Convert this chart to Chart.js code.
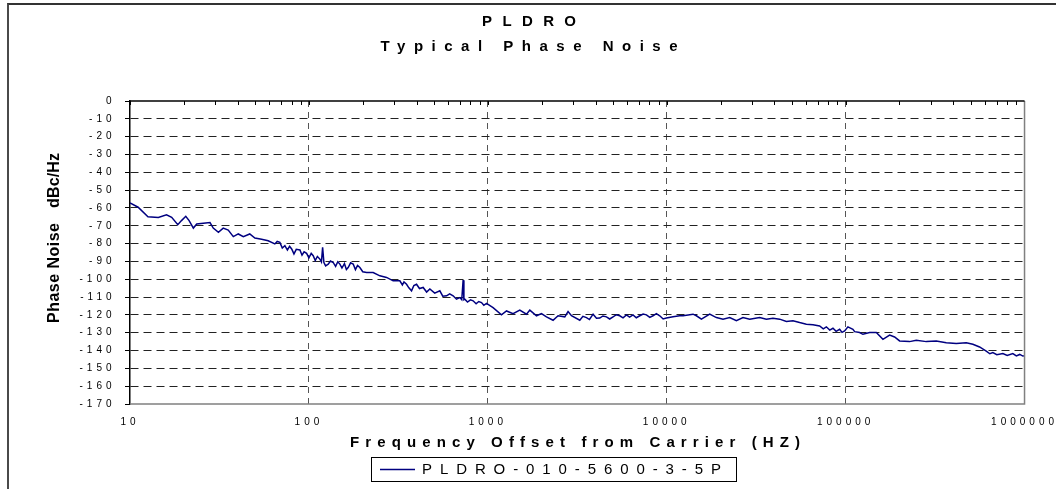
<!DOCTYPE html>
<html>
<head>
<meta charset="utf-8">
<title>PLDRO Typical Phase Noise</title>
<script src="https://cdn.jsdelivr.net/npm/chart.js@4.4.1/dist/chart.umd.min.js"></script>
<style>
  html, body { margin: 0; padding: 0; background: #fff; }
  #marco { position: relative; width: 1056px; height: 489px; overflow: hidden; }
  #marco canvas { position: absolute; left: 0; top: 0; }
  #borde {
    position: absolute; left: 7px; top: 3px; width: 1049px; height: 486px;
    box-sizing: border-box; border-top: 2px solid #333; border-left: 2px solid #4a4a4a;
    pointer-events: none;
  }
</style>
</head>
<body>
<div id="marco">
  <canvas id="grafico" width="1056" height="489"></canvas>
  <div id="borde"></div>
</div>
<script>
// Data
const offsetHz = [
  10, 11.1, 12.6, 14.4, 16.0, 17.1, 18.5, 19.4, 20.5, 21.4, 22.6, 23.6, 25.7, 28.0, 29.2,
  31.2, 33.2, 35.4, 37.8, 40.3, 43.0, 46.7, 49.9, 54.4, 59.2, 64.5, 66.5, 68.8, 71, 73.4,
  75.8, 78, 80.1, 82.5, 85, 89.1, 91.5, 94, 97.1, 100, 103, 105.7, 108.5, 111.5, 115.2,
  117.5, 119.3, 121.3, 124, 128.2, 132, 136.7, 141, 145, 149, 153, 158, 162, 165.8, 171,
  176.8, 182, 187, 192.7, 200, 210.1, 228.7, 249.3, 271.7, 295.7, 322.3, 333, 340, 351.4,
  362, 374.7, 386, 399.6, 415, 435.1, 455, 474.2, 505, 539.2, 560, 588, 612, 640, 668,
  697.6, 715, 727.8, 735, 743.9, 770, 800, 827.8, 860, 890, 922.2, 950, 983.3, 1070,
  1192, 1272, 1384, 1509, 1645, 1717, 1871, 1995, 2128, 2316, 2470, 2693, 2809, 2935,
  3266, 3400, 3560, 3700, 3876, 4050, 4224, 4400, 4604, 4800, 5012, 5230, 5462, 5700,
  5956, 6200, 6482, 6760, 7068, 7380, 7703, 8040, 8385, 8750, 9141, 9550, 9961, 10845,
  11818, 12335, 14028, 14655, 15627, 17391, 18955, 20634, 22491, 24516, 26692, 29087,
  33078, 36058, 39264, 42794, 46648, 50770, 55335, 60312, 65673, 71571, 75000, 78023,
  81500, 84953, 88500, 92582, 95500, 98720, 103000, 109850, 112300, 119740, 124940,
  136180, 148450, 161620, 176160, 187800, 200330, 227800, 248310, 282330, 321150, 365300,
  415300, 472400, 514300, 560500, 610900, 640000, 665200, 700000, 756500, 800000, 860300,
  900000, 940000, 978400, 1000000
];
const phaseNoiseDbc = [
  -57.2, -59.6, -64.9, -65.3, -63.9, -65.3, -69.4, -67.1, -64.7, -67.1, -71.3, -69.0, -68.6, -68.2, -71.3,
  -73.7, -71.3, -72.4, -76.1, -74.6, -76.1, -74.6, -76.9, -77.6, -78.4, -80.2, -78.8, -79.3, -82.5, -81.2,
  -83.6, -81.5, -83, -85.8, -83.2, -83.6, -86.5, -84.6, -85.5, -88, -85.5, -86.8, -89.5, -87.2, -88.7,
  -90.3, -82.1, -90.6, -92.5, -91.5, -89.8, -90.6, -92.8, -90.2, -91.5, -93.7, -91.2, -94.5, -93.4, -90.8,
  -91.5, -94.6, -92.3, -93.4, -95.8, -96.2, -96.2, -98.1, -99, -100.9, -100.9, -103.2, -101.5, -102.8,
  -104.8, -106.5, -103.5, -102.8, -105.2, -104.6, -107.2, -105.5, -107.8, -106.5, -109.5, -109.3, -108.2, -109.3, -111.2,
  -110.3, -111.5, -100.5, -111.5, -111.2, -112.8, -111.6, -112.1, -113.8, -112.5, -113.1, -114.6, -113.6, -115.9,
  -120, -117.8, -119.3, -117.3, -119.6, -117.3, -120.5, -119.3, -121.1, -123, -120.5, -121.1, -118.1, -120.5,
  -123, -120.8, -121.5, -122.6, -119.6, -121.9, -121.8, -120.6, -121.1, -122.3, -121.1, -119.9, -120.5, -121.7,
  -120, -121.3, -120, -121.6, -120.5, -119.5, -120, -121.4, -120.5, -119.3, -120.5, -122.3, -121.8, -121.1,
  -120.5, -120.5, -119.6, -120.5, -122.4, -119.6, -121.5, -122.4, -121.5, -123.3, -121.5, -122.4,
  -121.5, -122.4, -121.9, -122.4, -123.7, -123.3, -124.3, -125.2, -125.6, -126.2, -127.8, -126.7,
  -128.5, -127.5, -129.2, -128.1, -129.8, -129, -126.7, -128.1, -129.4, -129.9, -130.9,
  -129.9, -129.9, -133.7, -131.3, -132.4, -134.6, -135, -134.2, -135, -134.6, -135.6,
  -136.1, -135.6, -136.5, -138, -140.3, -141.8, -141.2, -142.3, -141.7, -142.8, -141.7,
  -143, -142.2, -143.1, -143
];
const decades = [10, 100, 1000, 10000, 100000, 1000000];
const yMin = -170;
const yMax = 0;
const serieNombre = 'PLDRO-010-5600-3-5P';

const fuente = '"Liberation Sans", Arial, sans-serif';
const azul = '#000080';

// Draws text stretched to a given width with letter spacing
function textoEspaciado(ctx, texto, cx, cy, font, ancho) {
  ctx.font = font;
  ctx.letterSpacing = '0px';
  const w = ctx.measureText(texto).width;
  const esp = Math.max(0, (ancho - w) / (texto.length - 1));
  ctx.letterSpacing = esp + 'px';
  ctx.textAlign = 'left';
  ctx.textBaseline = 'middle';
  ctx.fillText(texto, cx - ancho / 2, cy);
}

// --- PLUGIN: frame, minor ticks, titles, legend ---
const adornos = {
  id: 'adornos',
  beforeDraw(chart) {
    chart.ctx.letterSpacing = '4px';
  },
  afterDraw(chart) {
    const { ctx, chartArea: a, scales: { x, y } } = chart;
    ctx.save();
    ctx.letterSpacing = '0px';

    // plot area border (right and bottom)
    ctx.strokeStyle = '#808080';
    ctx.lineWidth = 1.5;
    ctx.beginPath();
    ctx.moveTo(a.left, a.bottom);
    ctx.lineTo(a.right, a.bottom);
    ctx.lineTo(a.right, a.top);
    ctx.stroke();

    // axis line at 0 dB with log ticks (1..9 per decade)
    const y0 = y.getPixelForValue(0);
    ctx.strokeStyle = '#000';
    ctx.lineWidth = 1.5;
    ctx.beginPath();
    ctx.moveTo(a.left, y0);
    ctx.lineTo(a.right, y0);
    ctx.stroke();
    ctx.lineWidth = 1;
    ctx.beginPath();
    decades.slice(0, -1).forEach(d => {
      for (let k = 1; k <= 9; k++) {
        const px = Math.round(x.getPixelForValue(d * k)) + 0.5;
        ctx.moveTo(px, y0);
        ctx.lineTo(px, y0 + 4);
      }
    });
    ctx.stroke();

    ctx.fillStyle = '#000';
    // titles
    textoEspaciado(ctx, 'PLDRO', 529, 22, 'bold 15px ' + fuente, 94);
    textoEspaciado(ctx, 'Typical Phase Noise', 529, 47, 'bold 15px ' + fuente, 297);
    textoEspaciado(ctx, 'Frequency Offset from Carrier (HZ)', 575, 443, 'bold 15px ' + fuente, 450);

    // y axis title
    ctx.save();
    ctx.translate(55, 0);
    ctx.rotate(-Math.PI / 2);
    textoEspaciado(ctx, 'Phase Noise', -273, 0, 'bold 16px ' + fuente, 100);
    textoEspaciado(ctx, 'dBc/Hz', -180.5, 0, 'bold 16px ' + fuente, 55);
    ctx.restore();

    // legend
    ctx.letterSpacing = '0px';
    ctx.strokeStyle = '#000';
    ctx.lineWidth = 1;
    ctx.strokeRect(371.5, 457.5, 365, 24);
    ctx.strokeStyle = azul;
    ctx.lineWidth = 1.5;
    ctx.beginPath();
    ctx.moveTo(380, 469.5);
    ctx.lineTo(415, 469.5);
    ctx.stroke();
    textoEspaciado(ctx, serieNombre, 571.5, 470, '15px ' + fuente, 299);

    ctx.restore();
  }
};

// --- CHART ---
const ctx = document.getElementById('grafico').getContext('2d');
const puntos = offsetHz.map((f, i) => ({ x: f, y: phaseNoiseDbc[i] }));

new Chart(ctx, {
  type: 'line',
  data: {
    datasets: [{
      label: serieNombre,
      data: puntos,
      borderColor: azul,
      borderWidth: 1.5,
      pointRadius: 0,
      tension: 0,
      fill: false
    }]
  },
  options: {
    responsive: false,
    animation: false,
    devicePixelRatio: 1,
    layout: { padding: { top: 101, right: 31, left: 0, bottom: 0 } },
    plugins: {
      legend: { display: false },
      title: { display: false },
      tooltip: { enabled: false }
    },
    scales: {
      x: {
        type: 'logarithmic',
        min: 10,
        max: 1000000,
        afterFit: s => { s.height = 85; },
        grid: {
          color: c => (c.tick && (c.tick.value === 10 || c.tick.value === 1000000)) ? 'rgba(0,0,0,0)' : '#555',
          lineWidth: 1,
          drawTicks: false
        },
        border: { display: false, dash: [6, 5] },
        ticks: {
          autoSkip: false,
          maxRotation: 0,
          padding: 12,
          color: '#000',
          font: { family: fuente, size: 10 },
          callback: v => decades.includes(v) ? String(v) : null
        }
      },
      y: {
        min: yMin,
        max: yMax,
        afterFit: s => { s.width = 130; },
        grid: {
          color: c => (c.tick && (c.tick.value === yMin || c.tick.value === yMax)) ? 'rgba(0,0,0,0)' : '#222',
          tickColor: '#000',
          tickLength: 5,
          lineWidth: 1
        },
        border: { display: true, color: '#000', width: 1.5, dash: [8, 5] },
        ticks: {
          stepSize: 10,
          padding: 9.5,
          color: '#000',
          font: { family: fuente, size: 10 }
        }
      }
    }
  },
  plugins: [adornos]
});
</script>
</body>
</html>
